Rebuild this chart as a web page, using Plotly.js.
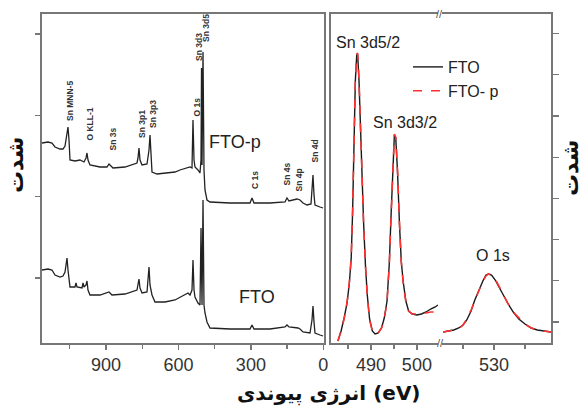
<!DOCTYPE html>
<html><head><meta charset="utf-8">
<script src="https://cdn.plot.ly/plotly-3.0.1.min.js"></script>
<style>html,body{margin:0;padding:0;background:#fff;}</style>
</head><body>
<div id="chart" style="width:587px;height:410px;"></div>
<script>
// ---- Survey spectra (left panel): binding energy (eV) and intensity (a.u.)
const surveyFTOp_eV = [1165.3,1140.4,1123.9,1111.5,1090.8,1078.3,1070.0,1061.7,1057.6,1053.4,1049.3,1028.6,1007.9,991.3,983.0,978.9,974.8,966.5,925.0,896.1,887.8,875.4,871.2,821.5,771.8,767.6,763.5,759.3,751.0,730.3,722.0,717.9,713.8,709.6,688.9,655.8,614.3,593.6,560.5,552.2,543.9,539.8,535.6,531.5,519.1,510.8,506.6,504.5,502.4,498.3,494.2,490.1,481.8,469.4,386.5,303.7,295.4,287.1,220.8,158.7,150.4,142.1,109.0,96.5,84.1,67.5,51.0,46.8,42.7,38.5,34.4,13.7,1.2];
const surveyFTOp_I  = [200,201,200,196,194,194,197,208,216,203,183,182,183,181,185,190,183,178,176,176,179,176,175,176,180,185,195,183,178,179,193,208,183,171,169,170,171,173,176,176,175,223,183,176,173,170,183,275,178,291,173,153,143,141,140,140,145,140,140,141,145,142,144,143,140,138,139,153,168,148,138,136,135];
const surveyFTO_eV  = [1165.3,1140.4,1123.9,1111.5,1090.8,1078.3,1070.0,1065.8,1061.7,1057.6,1049.3,1028.6,1024.4,1020.3,999.6,995.4,991.3,983.0,978.9,974.8,966.5,925.0,896.1,887.8,875.4,821.5,771.8,767.6,763.5,759.3,751.0,730.3,726.1,722.0,717.9,709.6,697.2,655.8,614.3,593.6,568.8,560.5,552.2,543.9,539.8,535.6,531.5,519.1,510.8,506.6,502.4,498.3,494.2,490.1,481.8,469.4,386.5,303.7,295.4,287.1,220.8,158.7,150.4,142.1,104.8,96.5,84.1,55.1,46.8,42.7,38.5,34.4,13.7,1.2];
const surveyFTO_I   = [73,74,73,68,66,67,71,81,85,73,56,56,60,56,55,60,56,58,62,53,48,48,50,51,48,49,53,58,64,55,50,51,63,76,58,48,41,41,43,46,49,50,48,53,83,53,46,40,38,115,38,143,38,30,21,15,14,14,18,14,14,16,18,16,15,14,11,10,23,37,21,10,8,7];

// ---- High-resolution Sn 3d region (right panel, left part)
const sn3d_eV    = [482.8,483.5,484.2,484.8,485.3,485.7,486.0,486.3,486.6,486.9,487.1,487.4,487.7,488.0,488.4,488.8,489.2,489.7,490.3,490.9,491.6,492.3,492.9,493.5,494.0,494.4,494.8,495.1,495.4,495.8,496.2,496.6,497.0,497.6,498.2,499.0,500.0,501.0,502.0,503.0,504.0,504.6];
const sn3dFTO_I  = [2,12,26,40,60,85,130,200,262,288,289,262,215,170,120,78,48,24,12,9,10,15,25,42,80,130,180,208,205,170,120,82,62,42,32,29,28,29,31,34,36,38];
const sn3dFTOp_I = [2,12,25,41,61,86,132,201,263,289,290,263,214,169,119,77,47,23,12,9,10,15,24,41,79,129,181,209,206,171,121,81,61,41,32,29,29,30,30,31,31,31];

// ---- High-resolution O 1s region (right panel, right part)
const o1s_eV    = [521.8,522.5,523.5,524.3,525.0,525.6,526.3,526.9,527.6,528.2,528.7,529.1,529.6,530.2,530.8,531.4,532.2,533.1,534.0,535.0,536.0,537.0,538.0,539.2];
const o1sFTO_I  = [11,12,13,15,18,23,32,43,54,62,68,69,68,63,56,49,40,31,24,19,15,13,12,11];
const o1sFTOp_I = [11,12,13,14,18,24,33,43,53,62,67,69,68,64,57,49,40,31,25,19,15,13,12,11];

// ---- Text
const surveyTicks = [900,600,300,0];
const seriesNames = ['FTO','FTO- p'];
const peakLabels = ['Sn MNN-5','O KLL-1','Sn 3s','Sn 3p1','Sn 3p3','O 1s','Sn 3d3','Sn 3d5','C 1s','Sn 4s','Sn 4p','Sn 4d'];
const yTitle = 'شدت';
const xTitle = 'انرژی پیوندی (eV)';

// pixel -> paper helpers (layout positions only)
const W = 587, H = 410;
const px = v => v / W, py = v => 1 - v / H;

const FONT = 'Liberation Sans, Arial, sans-serif';
const AX = '#777';

const black = {color:'#1a1a1a', width:1.4};
const red = {color:'#ff3030', width:1.6, dash:'dash'};

const traces = [
  {x:surveyFTOp_eV, y:surveyFTOp_I, xaxis:'x', yaxis:'y', mode:'lines', line:{color:'#222', width:1.3}, showlegend:false, hoverinfo:'skip'},
  {x:surveyFTO_eV, y:surveyFTO_I, xaxis:'x', yaxis:'y', mode:'lines', line:{color:'#222', width:1.3}, showlegend:false, hoverinfo:'skip'},
  {x:sn3d_eV, y:sn3dFTO_I, xaxis:'x2', yaxis:'y2', mode:'lines', line:black, name:seriesNames[0], legendrank:1},
  {x:sn3d_eV, y:sn3dFTOp_I, xaxis:'x2', yaxis:'y2', mode:'lines', line:red, name:seriesNames[1], legendrank:2},
  {x:o1s_eV, y:o1sFTO_I, xaxis:'x3', yaxis:'y3', mode:'lines', line:black, showlegend:false},
  {x:o1s_eV, y:o1sFTOp_I, xaxis:'x3', yaxis:'y3', mode:'lines', line:red, showlegend:false}
];

const axBase = {showline:true, linecolor:AX, linewidth:1.6, zeroline:false, showgrid:false,
  ticks:'outside', tickcolor:AX, ticklen:5, tickwidth:1.3,
  tickfont:{family:FONT, size:18, color:'#333'}};

const yDom = [py(343), py(14)];

const smallLab = (text, x, yb) => ({text:'<b>'+text+'</b>', x:px(x), y:py(yb), xref:'paper', yref:'paper',
  textangle:-90, xanchor:'center', yanchor:'bottom', showarrow:false,
  font:{family:FONT, size:8.5, color:'#333'}});
const lab = (text, x, y, size) => ({text, x:px(x), y:py(y), xref:'paper', yref:'paper',
  xanchor:'center', yanchor:'middle', showarrow:false, font:{family:FONT, size, color:'#222'}});

const annotations = [
  smallLab(peakLabels[0], 70, 123),
  smallLab(peakLabels[1], 89, 143),
  smallLab(peakLabels[2], 112, 153),
  smallLab(peakLabels[3], 142, 140),
  smallLab(peakLabels[4], 153, 130),
  smallLab(peakLabels[5], 196, 119),
  smallLab(peakLabels[6], 199, 63),
  smallLab(peakLabels[7], 206, 44),
  smallLab(peakLabels[8], 255, 191),
  smallLab(peakLabels[9], 287, 188),
  smallLab(peakLabels[10], 298, 193),
  smallLab(peakLabels[11], 314, 165),
  lab('FTO-p', 235, 142, 18),
  lab('FTO', 257, 297, 18),
  lab('Sn 3d5/2', 368, 43, 16),
  lab('Sn 3d3/2', 405, 122, 16),
  lab('O 1s', 493, 255, 16),
  {text:'//', x:px(439), y:py(14), xref:'paper', yref:'paper', showarrow:false, xanchor:'center', yanchor:'middle', font:{family:FONT, size:11, color:'#555'}},
  {text:'//', x:px(440), y:py(343), xref:'paper', yref:'paper', showarrow:false, xanchor:'center', yanchor:'middle', font:{family:FONT, size:11, color:'#555'}},
  {text:'<b>'+yTitle+'</b>', x:px(15), y:py(165), xref:'paper', yref:'paper', textangle:-90, showarrow:false, xanchor:'center', yanchor:'middle', font:{family:'DejaVu Sans, sans-serif', size:22, color:'#111'}},
  {text:'<b>'+yTitle+'</b>', x:px(571), y:py(168), xref:'paper', yref:'paper', textangle:-90, showarrow:false, xanchor:'center', yanchor:'middle', font:{family:'DejaVu Sans, sans-serif', size:22, color:'#111'}},
  {text:'<b>'+xTitle+'</b>', x:px(329), y:py(393), xref:'paper', yref:'paper', showarrow:false, xanchor:'center', yanchor:'middle', font:{family:'DejaVu Sans, sans-serif', size:20, color:'#111'}}
];

const layout = {
  width:W, height:H, margin:{l:0, r:0, t:0, b:0},
  paper_bgcolor:'#fff', plot_bgcolor:'#fff',
  showlegend:true,
  legend:{x:px(408), y:py(50), xanchor:'left', yanchor:'top', bgcolor:'rgba(0,0,0,0)',
    font:{family:FONT, size:16, color:'#222'}, tracegroupgap:0},
  xaxis:Object.assign({}, axBase, {domain:[px(42), px(324)], range:[1165.3, -2.9], anchor:'y', mirror:true,
    tickvals:surveyTicks, minor:{dtick:150, tick0:0, ticks:'outside', ticklen:4, tickcolor:AX}}),
  yaxis:Object.assign({}, axBase, {domain:yDom, range:[0, 329], anchor:'x', mirror:true,
    tick0:65, dtick:81.3, showticklabels:false}),
  xaxis2:Object.assign({}, axBase, {domain:[px(331), px(438)], range:[481.3, 504.6], anchor:'y2', mirror:true,
    tickvals:[490, 500], minor:{tickvals:[485, 495], ticks:'outside', ticklen:4, tickcolor:AX}}),
  yaxis2:Object.assign({}, axBase, {domain:yDom, range:[0, 329], anchor:'x2', side:'left', ticks:'', showticklabels:false}),
  xaxis3:Object.assign({}, axBase, {domain:[px(442), px(551)], range:[521.6, 539.2], anchor:'y3', mirror:true,
    tickvals:[530], minor:{tickvals:[525, 535], ticks:'outside', ticklen:4, tickcolor:AX}}),
  yaxis3:Object.assign({}, axBase, {domain:yDom, range:[0, 329], anchor:'x3', side:'right',
    tick0:21, dtick:41.2, ticklen:6, showticklabels:false}),
  annotations
};

Plotly.newPlot('chart', traces, layout, {staticPlot:true, displayModeBar:false});
</script>
</body></html>
